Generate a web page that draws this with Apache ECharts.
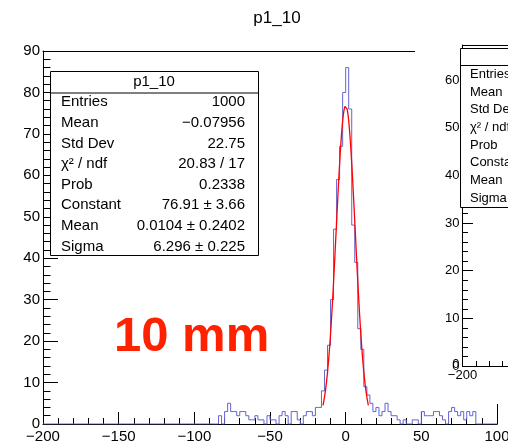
<!DOCTYPE html>
<html><head><meta charset="utf-8">
<script src="https://cdn.jsdelivr.net/npm/echarts@6/dist/echarts.min.js"></script>
<style>html,body{margin:0;padding:0;background:#fff}#c{width:508px;height:446px}</style>
</head><body><div id="c"></div>
<script>
// ---- data ----
const chartTitle = 'p1_10';
const binLow = -86;
const binWidth = 2;
const counts = [
  0, 2, 0, 3, 5, 3, 3, 2, 3, 3,     // -86 .. -68
  2, 1, 1, 2, 1, 1, 0, 2, 1, 1,     // -66 .. -48
  0, 2, 3, 2, 0, 3, 3, 1, 0, 2,     // -46 .. -28
  3, 3, 2, 4, 4, 8, 13, 19, 30, 47, // -26 .. -8
  59, 67, 80, 86, 76, 48, 39, 23, 18, 9, // -6 .. 12
  7, 5, 3, 4, 2, 3, 5, 3, 2, 2,     // 14 .. 32
  1, 0, 1, 0, 0, 1, 1, 0, 3, 2,     // 34 .. 52
  2, 2, 3, 3, 2, 1, 0, 3, 4, 3,     // 54 .. 72
  2, 3, 1, 3, 2, 3                   // 74 .. 84
];
const xTickValues = [-200, -150, -100, -50, 0, 50, 100];
const yTickValues = [0, 10, 20, 30, 40, 50, 60, 70, 80, 90];
const fitConstant = 76.91, fitMean = 0.0104, fitSigma = 6.296;
const fitRange = [-15, 15];
const statsLabels = ['Entries', 'Mean', 'Std Dev', 'χ² / ndf', 'Prob', 'Constant', 'Mean', 'Sigma'];
const statsValues = ['1000', '−0.07956', '22.75', '20.83 / 17', '0.2338', '76.91 ± 3.66', '0.0104 ± 0.2402', '6.296 ± 0.225'];
const annotation = '10 mm';
// neighbouring (cut-off) pad
const pad2YTicks = [0, 10, 20, 30, 40, 50, 60];
const pad2YMax = 67.4;
const pad2XTicks = [-200, 100];

// ---- build ----
const FONT = 'Liberation Sans, Arial, Helvetica, sans-serif';
const minus = v => (v < 0 ? '−' + (-v) : '' + v);

const xMin = xTickValues[0], xMax = xTickValues[xTickValues.length - 1];
const hist = [[xMin, 0], [binLow, 0]];
counts.forEach((c, i) => {
  const lo = binLow + i * binWidth;
  hist.push([lo, c], [lo + binWidth, c]);
});
hist.push([binLow + counts.length * binWidth, 0], [xMax, 0]);

const fit = [];
for (let x = fitRange[0]; x <= fitRange[1] + 1e-9; x += 0.25) {
  fit.push([x, fitConstant * Math.exp(-0.5 * Math.pow((x - fitMean) / fitSigma, 2))]);
}

const chart = echarts.init(document.getElementById('c'), null, {renderer: 'canvas'});
const blackLine = {onZero: false, lineStyle: {color: '#000', width: 1}};

const graphics = [];
graphics.push({type: 'rect', shape: {x: 415, y: 0, width: 100, height: 404}, style: {fill: '#fff'}, z: 5, silent: true});
graphics.push({type: 'text', x: 277, y: 18, style: {text: chartTitle, font: '17px ' + FONT, fill: '#000', align: 'center', verticalAlign: 'middle'}, z: 30});
graphics.push({type: 'text', x: 114, y: 337, style: {text: annotation, font: 'bold 49px ' + FONT, fill: '#ff2200', align: 'left', verticalAlign: 'middle'}, z: 30});
const sb = {x: 50, y: 71, w: 208, h: 184, head: 21.5, row0: 102.3, step: 20.6};
graphics.push({type: 'rect', shape: {x: sb.x + 0.5, y: sb.y + 0.5, width: sb.w, height: sb.h}, style: {fill: '#fff', stroke: '#000', lineWidth: 1}, z: 20});
graphics.push({type: 'line', shape: {x1: sb.x, y1: sb.y + sb.head + 0.5, x2: sb.x + sb.w, y2: sb.y + sb.head + 0.5}, style: {stroke: '#000', lineWidth: 1}, z: 21});
graphics.push({type: 'text', x: sb.x + sb.w / 2, y: sb.y + 11, style: {text: chartTitle, font: '15px ' + FONT, fill: '#000', align: 'center', verticalAlign: 'middle'}, z: 22});
statsLabels.forEach((t, i) => {
  graphics.push({type: 'text', x: 61, y: sb.row0 + i * sb.step, style: {text: t, font: '15px ' + FONT, fill: '#000', align: 'left', verticalAlign: 'middle'}, z: 22});
  graphics.push({type: 'text', x: 245, y: sb.row0 + i * sb.step, style: {text: statsValues[i], font: '15px ' + FONT, fill: '#000', align: 'right', verticalAlign: 'middle'}, z: 22});
});
graphics.push({type: 'rect', shape: {x: 460.5, y: 48.5, width: 120, height: 159}, style: {fill: '#fff', stroke: '#000', lineWidth: 1}, z: 20});
graphics.push({type: 'line', shape: {x1: 460, y1: 65.5, x2: 520, y2: 65.5}, style: {stroke: '#000', lineWidth: 1}, z: 21});
statsLabels.forEach((t, i) => {
  graphics.push({type: 'text', x: 470, y: 74.3 + i * 17.7, style: {text: t, font: '13px ' + FONT, fill: '#000', align: 'left', verticalAlign: 'middle'}, z: 22});
});
// zero label of the neighbouring pad's y axis (hidden by the library at the axis corner)
graphics.push({type: 'text', x: 459.5, y: 364, style: {text: String(pad2YTicks[0]), font: '13px ' + FONT, fill: '#000', align: 'right', verticalAlign: 'middle'}, z: 22});

const option = {
  animation: false,
  backgroundColor: '#fff',
  grid: [
    {left: 43, top: 51, width: 454, height: 373, containLabel: false, outerBoundsMode: 'none'},
    {left: 462.5, top: 45, width: 400, height: 321, containLabel: false, outerBoundsMode: 'none'}
  ],
  xAxis: [
    {gridIndex: 0, type: 'value', min: xMin, max: xMax, interval: 50, z: 0,
      axisLine: blackLine, splitLine: {show: false},
      axisTick: {inside: true, length: 12, lineStyle: {color: '#000'}},
      minorTick: {show: true, splitNumber: 5, length: 6, lineStyle: {color: '#000'}},
      axisLabel: {formatter: minus, color: '#000', fontSize: 15, fontFamily: FONT, margin: 5, hideOverlap: false}},
    {gridIndex: 0, type: 'value', position: 'top', min: xMin, max: xMax, z: 0,
      axisLine: blackLine, axisTick: {show: false}, axisLabel: {show: false}, splitLine: {show: false}},
    {gridIndex: 1, type: 'value', min: pad2XTicks[0], max: pad2XTicks[1], interval: 50, z: 10,
      axisLine: blackLine, splitLine: {show: false},
      axisTick: {inside: true, length: 9, lineStyle: {color: '#000'}},
      minorTick: {show: true, splitNumber: 5, length: 5, lineStyle: {color: '#000'}},
      axisLabel: {formatter: minus, color: '#000', fontSize: 13, fontFamily: FONT, margin: 3, hideOverlap: false}},
    {gridIndex: 1, type: 'value', position: 'top', min: pad2XTicks[0], max: pad2XTicks[1], z: 10,
      axisLine: blackLine, axisTick: {show: false}, axisLabel: {show: false}, splitLine: {show: false}}
  ],
  yAxis: [
    {gridIndex: 0, type: 'value', min: yTickValues[0], max: yTickValues[yTickValues.length - 1], interval: 10, z: 0,
      axisLine: blackLine, splitLine: {show: false},
      axisTick: {inside: true, length: 15, lineStyle: {color: '#000'}},
      minorTick: {show: true, splitNumber: 5, length: 7.5, lineStyle: {color: '#000'}},
      axisLabel: {color: '#000', fontSize: 15, fontFamily: FONT, margin: 3}},
    {gridIndex: 0, type: 'value', position: 'right', min: 0, max: 90, z: 0,
      axisLine: blackLine, axisTick: {show: false}, axisLabel: {show: false}, splitLine: {show: false}},
    {gridIndex: 1, type: 'value', min: pad2YTicks[0], max: pad2YMax, interval: 10, z: 10,
      axisLine: blackLine, splitLine: {show: false},
      axisTick: {inside: true, length: 10.5, lineStyle: {color: '#000'}},
      minorTick: {show: true, splitNumber: 5, length: 5.5, lineStyle: {color: '#000'}},
      axisLabel: {color: '#000', fontSize: 13, fontFamily: FONT, margin: 3, showMaxLabel: false, hideOverlap: false}}
  ],
  series: [
    {type: 'line', xAxisIndex: 0, yAxisIndex: 0, data: hist, symbol: 'none', z: 2,
      lineStyle: {color: '#6464d2', width: 1}},
    {type: 'line', xAxisIndex: 0, yAxisIndex: 0, data: fit, symbol: 'none', smooth: false, z: 3,
      lineStyle: {color: '#ff0000', width: 1.3}}
  ],
  graphic: graphics
};
chart.setOption(option);
</script>
</body></html>
